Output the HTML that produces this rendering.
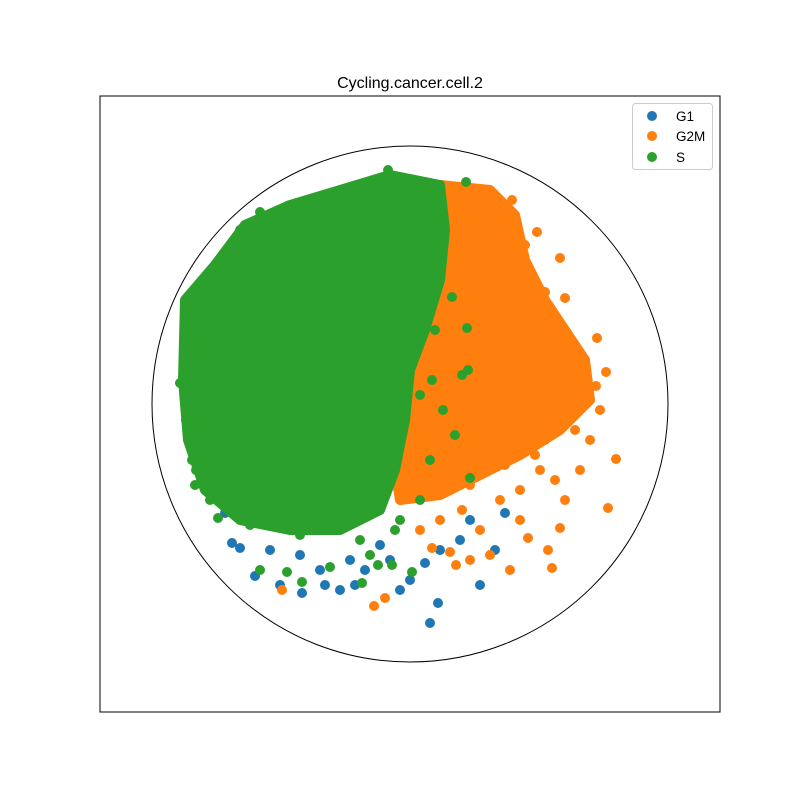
<!DOCTYPE html>
<html><head><meta charset="utf-8"><style>
body{margin:0;background:#fff}
svg{display:block;font-family:"Liberation Sans","DejaVu Sans",sans-serif}
</style></head><body>
<svg id="chart" width="800" height="800" viewBox="0 0 800 800">
<rect width="800" height="800" fill="#fff"/>
<text x="410" y="88" text-anchor="middle" font-size="16">Cycling.cancer.cell.2</text>
<g id="marks"></g>
<rect x="100" y="96" width="620" height="616" fill="none" stroke="#000" stroke-width="1"/>
<g>
<rect x="632.5" y="103.5" width="80" height="66" rx="3" fill="#fff" fill-opacity="0.8" stroke="#ccc"/>
<circle cx="652" cy="116" r="5" fill="#1f77b4"/>
<text x="676" y="121" font-size="13.5">G1</text>
<circle cx="652" cy="136" r="5" fill="#ff7f0e"/>
<text x="676" y="141" font-size="13.5">G2M</text>
<circle cx="652" cy="157" r="5" fill="#2ca02c"/>
<text x="676" y="162" font-size="13.5">S</text>
</g>
</svg>
<script>
const xDomain=[-15.5,15.5], yDomain=[-15.4,15.4];
const circleRadius=12.9;
const greenRegion=[[-11.25,5.2],[-9.75,6.95],[-8.25,8.95],[-6,9.95],[-3.5,10.7],[-1,11.45],[1.5,10.95],[1.75,8.7],[1.5,6.2],[0.75,3.7],[0,1.7],[-0.25,-0.8],[-0.75,-3.3],[-1.5,-5.3],[-3.5,-6.3],[-6,-6.3],[-8.5,-5.8],[-10.25,-4.3],[-11.1,-1.8],[-11.35,1.2]];
const orangeRegion=[[1.5,10.95],[4,10.7],[5.25,9.45],[5.75,7.2],[6.75,5.2],[7.75,3.7],[8.75,2.2],[9,0.2],[7.5,-1.3],[5.5,-2.55],[3.5,-3.55],[1.5,-4.55],[-0.5,-4.8],[-0.75,-3.3],[-0.25,-0.8],[0,1.7],[0.75,3.7],[1.5,6.2],[1.75,8.7]];
const g1Points=[[1,-10.95],[1.4,-9.95],[3.5,-9.05],[-0.5,-9.3],[0,-8.8],[-3.5,-9.3],[-2.75,-9.05],[-4.25,-9.05],[-5.4,-9.45],[-6.5,-9.05],[-7.75,-8.6],[-8.5,-7.2],[-8.9,-6.95],[-9.25,-5.45],[-5.5,-7.55],[-4.5,-8.3],[-2.25,-8.3],[-1,-7.8],[0.75,-7.95],[1.5,-7.3],[2.5,-6.8],[3,-5.8],[4.75,-5.45],[4.25,-7.3],[-7,-7.3],[-3,-7.8],[-1.5,-7.05]];
const g2mPoints=[[10.3,-2.75],[9.9,-5.2],[9.35,3.3],[9.8,1.6],[9.3,0.9],[9.5,-0.3],[9,-1.8],[8.5,-3.3],[7.75,-4.8],[7.5,-6.2],[6.9,-7.3],[7.1,-8.2],[5.9,-6.7],[5,-8.3],[4,-7.55],[3,-7.8],[2.3,-8.05],[2,-7.4],[1.1,-7.2],[-1.25,-9.7],[-1.8,-10.1],[-6.4,-9.3],[7.5,7.3],[6.35,8.6],[8,0.95],[8.25,-1.3],[6.5,-3.3],[5.5,-4.3],[4.5,-4.8],[3.5,-6.3],[2.6,-5.3],[1.5,-5.8],[0.5,-6.3],[5.75,-0.3],[6.75,-1.8],[7.25,-3.8],[5.5,-5.8],[7.75,5.3],[6.75,5.6],[7.1,3.95],[7.85,2.6],[8.5,-0.05],[6.25,-2.55],[4.75,-3.05],[3,-4.05],[5.75,7.95],[5.1,10.2]];
const sPoints=[[-1.1,11.7],[-6,9.85],[-7.5,9.6],[-8.8,7.95],[-10,6.45],[-10.9,4.7],[-11.25,3.2],[-11.5,1.05],[-10.9,-2.8],[-10.75,-4.05],[-10,-4.8],[-9.6,-5.7],[-7.5,-8.3],[-6.15,-8.4],[-5.4,-8.9],[-4,-8.15],[-2.4,-8.95],[-1.6,-8.05],[-0.9,-8.05],[0.1,-8.4],[3,-3.7],[2.9,1.7],[2.25,-1.55],[1.25,3.7],[2.1,5.35],[2.85,3.8],[2.6,1.45],[0.5,0.45],[1.65,-0.3],[1.1,1.2],[1.6,8.95],[2.8,11.1],[-2,-7.55],[-3.5,-5.8],[-0.5,-5.8],[0.5,-4.8],[1,-2.8],[-8.5,8.7],[-10.5,5.7],[-11.2,-0.8],[-10.7,-3.3],[-8,-6.05],[-5.5,-6.55],[-2.5,-6.8],[-0.75,-6.3]];

const X0=100,X1=720,Y0=96,Y1=712;
function sx(v){return X0+(v-xDomain[0])/(xDomain[1]-xDomain[0])*(X1-X0);}
function sy(v){return Y1-(v-yDomain[0])/(yDomain[1]-yDomain[0])*(Y1-Y0);}
const NS="http://www.w3.org/2000/svg";
const g=document.getElementById('marks');
const ring=document.createElementNS(NS,'circle');
ring.setAttribute('cx',sx(0));ring.setAttribute('cy',sy(0));
ring.setAttribute('r',sx(circleRadius)-sx(0));
ring.setAttribute('fill','none');ring.setAttribute('stroke','#000');


g.appendChild(ring);
function region(pts,color,name){
  const p=document.createElementNS(NS,'polygon');
  p.setAttribute('points',pts.map(d=>sx(d[0])+','+sy(d[1])).join(' '));
  p.setAttribute('fill',color);p.setAttribute('stroke',color);
  p.setAttribute('stroke-width','10');p.setAttribute('stroke-linejoin','round');
  
  
  g.appendChild(p);
}
function points(pts,color,name){
  pts.forEach(d=>{
    const c=document.createElementNS(NS,'circle');
    c.setAttribute('cx',sx(d[0]));c.setAttribute('cy',sy(d[1]));
    c.setAttribute('r','5');c.setAttribute('fill',color);
    
    
    g.appendChild(c);
  });
}
points(g1Points,'#1f77b4','g1-point');
region(orangeRegion,'#ff7f0e','g2m-dense-region');
points(g2mPoints,'#ff7f0e','g2m-point');
region(greenRegion,'#2ca02c','s-dense-region');
points(sPoints,'#2ca02c','s-point');
</script>
</body></html>
